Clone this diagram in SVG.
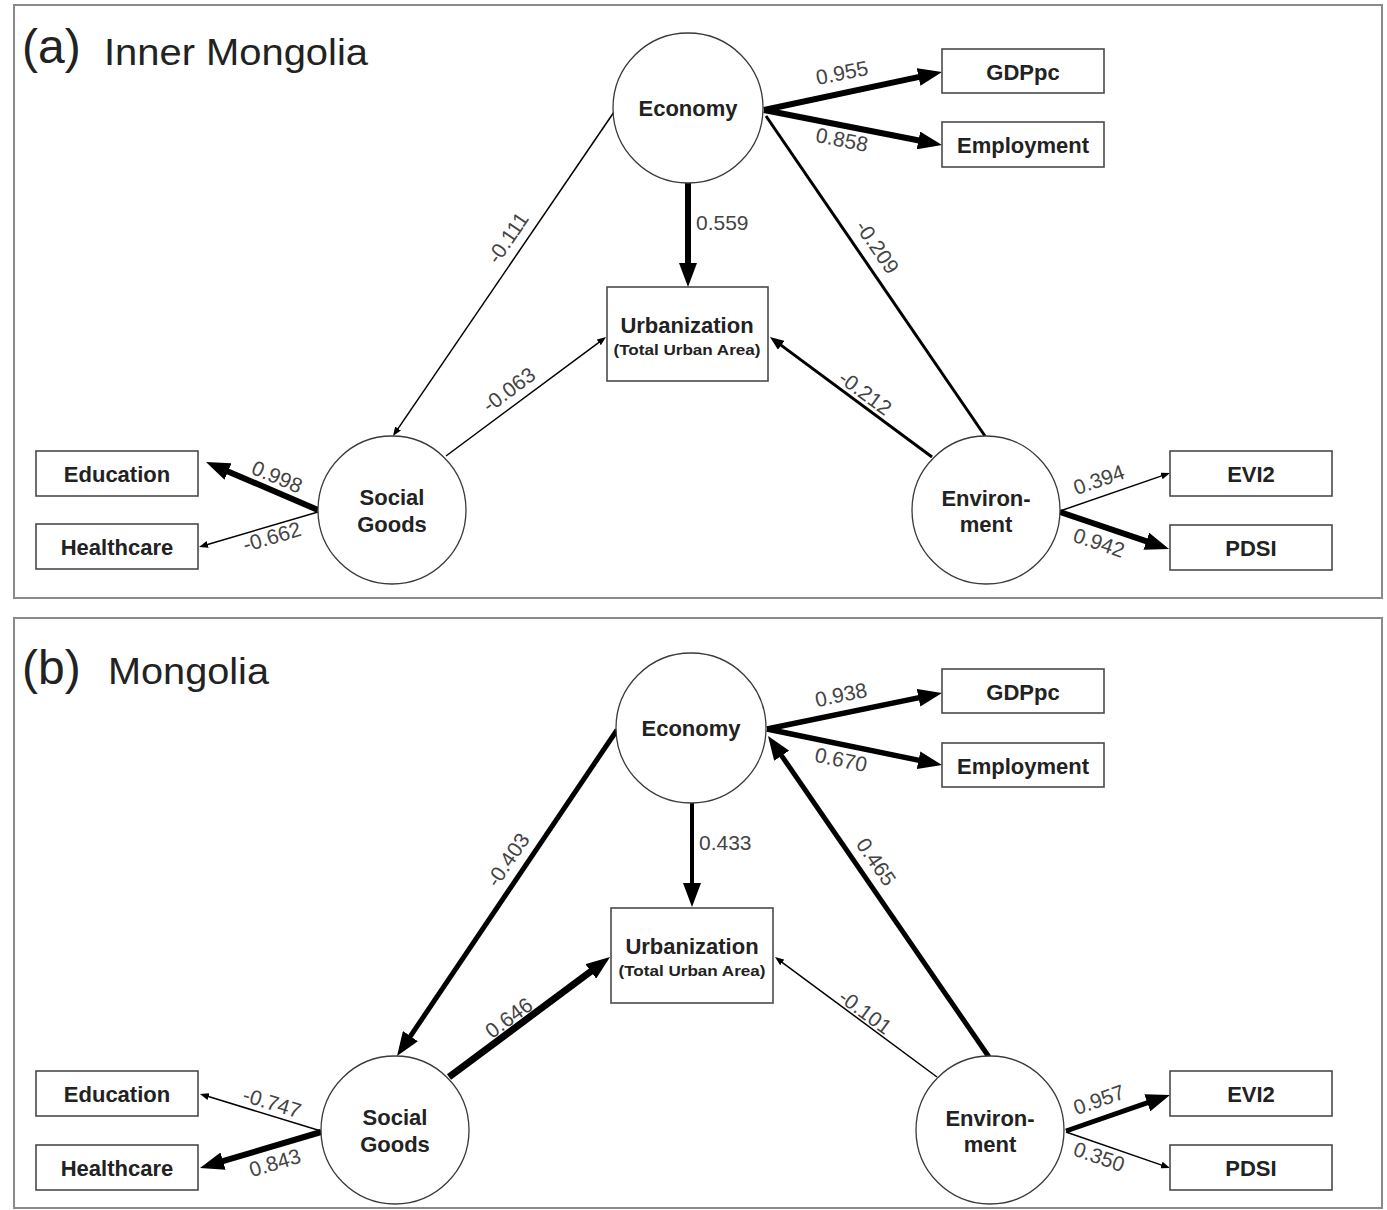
<svg xmlns="http://www.w3.org/2000/svg" width="1387" height="1210" viewBox="0 0 1387 1210">
  <style>
    .frame { fill: none; stroke: #8a8a8a; stroke-width: 2; }
    .lat { fill: #fff; stroke: #3a3a3a; stroke-width: 1.3; }
    .box { fill: #fff; stroke: #4a4a4a; stroke-width: 1.6; }
    .nl { font-family: "Liberation Sans", Arial, sans-serif; font-weight: bold; font-size: 22px; fill: #222; text-anchor: middle; }
    .sub { font-size: 15px; }
    .cl { font-family: "Liberation Sans", Arial, sans-serif; font-size: 21px; fill: #444; text-anchor: middle; }
    .title { font-family: "Liberation Sans", Arial, sans-serif; fill: #222; }
    .e { stroke: #000; fill: none; }
  </style>
  <defs>
    <marker id="ahL" markerUnits="userSpaceOnUse" viewBox="0 0 24 18" markerWidth="24" markerHeight="18" refX="2" refY="9" orient="auto">
      <path d="M0,0 L24,9 L0,18 z" fill="#000"/>
    </marker>
    <marker id="ahM" markerUnits="userSpaceOnUse" viewBox="0 0 14 11" markerWidth="14" markerHeight="11" refX="2" refY="5.5" orient="auto">
      <path d="M0,0 L14,5.5 L0,11 z" fill="#000"/>
    </marker>
    <marker id="ahS" markerUnits="userSpaceOnUse" viewBox="0 0 9 7" markerWidth="9" markerHeight="7" refX="1" refY="3.5" orient="auto">
      <path d="M0,0 L9,3.5 L0,7 z" fill="#000"/>
    </marker>
  </defs>

  <rect width="1387" height="1210" fill="#fff"/>

  <!-- panel frames and titles -->
  <g id="panel-a-frame">
    <rect class="frame" x="14" y="5" width="1368" height="593"/>
    <text class="title" x="22" y="63" font-size="48">(a)</text>
    <text class="title" x="104" y="65" font-size="36" textLength="264" lengthAdjust="spacingAndGlyphs">Inner Mongolia</text>
  </g>
  <g id="panel-b-frame">
    <rect class="frame" x="14" y="618" width="1368" height="590"/>
    <text class="title" x="22" y="684" font-size="48">(b)</text>
    <text class="title" x="108" y="684" font-size="36" textLength="161" lengthAdjust="spacingAndGlyphs">Mongolia</text>
  </g>

  <!-- connectors -->
  <g id="connectors">
    <!-- panel a -->
    <line class="e" x1="764" y1="110" x2="920.5" y2="76.6" stroke-width="6" marker-end="url(#ahL)"/>
    <line class="e" x1="764" y1="110" x2="920.4" y2="140.8" stroke-width="6" marker-end="url(#ahL)"/>
    <line class="e" x1="688" y1="183" x2="688" y2="265" stroke-width="6" marker-end="url(#ahL)"/>
    <line class="e" x1="614" y1="112" x2="397.5" y2="429.4" stroke-width="1.5" marker-end="url(#ahS)"/>
    <line class="e" x1="985" y1="436" x2="766" y2="116" stroke-width="3"/>
    <line class="e" x1="446" y1="456" x2="599.6" y2="341.8" stroke-width="1.5" marker-end="url(#ahS)"/>
    <line class="e" x1="932" y1="457" x2="779.6" y2="344.1" stroke-width="3" marker-end="url(#ahM)"/>
    <line class="e" x1="318" y1="510" x2="226.2" y2="470.7" stroke-width="6" marker-end="url(#ahL)"/>
    <line class="e" x1="318" y1="512" x2="206.7" y2="544.7" stroke-width="1.5" marker-end="url(#ahS)"/>
    <line class="e" x1="1060" y1="511" x2="1162.4" y2="475.6" stroke-width="1.5" marker-end="url(#ahS)"/>
    <line class="e" x1="1060" y1="512" x2="1148.2" y2="541.9" stroke-width="6" marker-end="url(#ahL)"/>

    <text class="cl" transform="translate(842,73) rotate(-11)" y="7">0.955</text>
    <text class="cl" transform="translate(842,140) rotate(11)" y="7">0.858</text>
    <text class="cl" x="696" y="230" style="text-anchor:start">0.559</text>
    <text class="cl" transform="translate(508,238) rotate(-55.7)" y="7">-0.111</text>
    <text class="cl" transform="translate(877,247) rotate(55.6)" y="7">-0.209</text>
    <text class="cl" transform="translate(509,390) rotate(-36.6)" y="7">-0.063</text>
    <text class="cl" transform="translate(865,393) rotate(36.5)" y="7">-0.212</text>
    <text class="cl" transform="translate(277,477) rotate(23)" y="7">0.998</text>
    <text class="cl" transform="translate(272,537) rotate(-16.4)" y="7">-0.662</text>
    <text class="cl" transform="translate(1099,480) rotate(-19)" y="7">0.394</text>
    <text class="cl" transform="translate(1099,543) rotate(18.7)" y="7">0.942</text>

    <!-- panel b -->
    <line class="e" x1="767" y1="729" x2="920.5" y2="697.4" stroke-width="5.5" marker-end="url(#ahL)"/>
    <line class="e" x1="767" y1="729" x2="920.5" y2="760.6" stroke-width="5.5" marker-end="url(#ahL)"/>
    <line class="e" x1="692" y1="803" x2="692" y2="885" stroke-width="4" marker-end="url(#ahL)"/>
    <line class="e" x1="617" y1="730" x2="409.3" y2="1037.8" stroke-width="5" marker-end="url(#ahL)"/>
    <line class="e" x1="989" y1="1057" x2="780.5" y2="754.1" stroke-width="5" marker-end="url(#ahL)"/>
    <line class="e" x1="449" y1="1077" x2="592.4" y2="970.2" stroke-width="7" marker-end="url(#ahL)"/>
    <line class="e" x1="937" y1="1077" x2="781.4" y2="961.8" stroke-width="1.5" marker-end="url(#ahS)"/>
    <line class="e" x1="321" y1="1131" x2="207.6" y2="1096.3" stroke-width="1.5" marker-end="url(#ahS)"/>
    <line class="e" x1="321" y1="1132" x2="221.1" y2="1161.7" stroke-width="6" marker-end="url(#ahL)"/>
    <line class="e" x1="1066" y1="1131" x2="1149.2" y2="1102.2" stroke-width="5" marker-end="url(#ahL)"/>
    <line class="e" x1="1066" y1="1132" x2="1162.4" y2="1165.4" stroke-width="1.5" marker-end="url(#ahS)"/>

    <text class="cl" transform="translate(841,695) rotate(-11.6)" y="7">0.938</text>
    <text class="cl" transform="translate(841,760) rotate(11.6)" y="7">0.670</text>
    <text class="cl" x="699" y="850" style="text-anchor:start">0.433</text>
    <text class="cl" transform="translate(508,860) rotate(-56)" y="7">-0.403</text>
    <text class="cl" transform="translate(876,862) rotate(55.5)" y="7">0.465</text>
    <text class="cl" transform="translate(509,1018) rotate(-36.7)" y="7">0.646</text>
    <text class="cl" transform="translate(865,1012) rotate(36.5)" y="7">-0.101</text>
    <text class="cl" transform="translate(272,1103) rotate(17)" y="7">-0.747</text>
    <text class="cl" transform="translate(275,1163) rotate(-16.6)" y="7">0.843</text>
    <text class="cl" transform="translate(1099,1100) rotate(-19.1)" y="7">0.957</text>
    <text class="cl" transform="translate(1099,1157) rotate(19.1)" y="7">0.350</text>
  </g>

  <!-- panel a nodes -->
  <g id="a-economy">
    <circle class="lat" cx="688" cy="108" r="75"/>
    <text class="nl" x="688" y="116">Economy</text>
  </g>
  <g id="a-social">
    <circle class="lat" cx="392" cy="510" r="74"/>
    <text class="nl" x="392" y="505">Social</text>
    <text class="nl" x="392" y="532">Goods</text>
  </g>
  <g id="a-environment">
    <circle class="lat" cx="986" cy="510" r="74"/>
    <text class="nl" x="986" y="506">Environ-</text>
    <text class="nl" x="986" y="532">ment</text>
  </g>
  <g id="a-urbanization">
    <rect class="box" x="607" y="287" width="161" height="94"/>
    <text class="nl" x="687" y="333">Urbanization</text>
    <text class="nl sub" x="687" y="355" textLength="147" lengthAdjust="spacingAndGlyphs">(Total Urban Area)</text>
  </g>
  <g id="a-gdppc">
    <rect class="box" x="942" y="49" width="162" height="44"/>
    <text class="nl" x="1023" y="80">GDPpc</text>
  </g>
  <g id="a-employment">
    <rect class="box" x="942" y="122" width="162" height="45"/>
    <text class="nl" x="1023" y="153">Employment</text>
  </g>
  <g id="a-education">
    <rect class="box" x="36" y="451" width="162" height="45"/>
    <text class="nl" x="117" y="482">Education</text>
  </g>
  <g id="a-healthcare">
    <rect class="box" x="36" y="524" width="162" height="45"/>
    <text class="nl" x="117" y="555">Healthcare</text>
  </g>
  <g id="a-evi2">
    <rect class="box" x="1170" y="451" width="162" height="45"/>
    <text class="nl" x="1251" y="482">EVI2</text>
  </g>
  <g id="a-pdsi">
    <rect class="box" x="1170" y="525" width="162" height="45"/>
    <text class="nl" x="1251" y="556">PDSI</text>
  </g>

  <!-- panel b nodes -->
  <g id="b-economy">
    <circle class="lat" cx="691" cy="728" r="75"/>
    <text class="nl" x="691" y="736">Economy</text>
  </g>
  <g id="b-social">
    <circle class="lat" cx="395" cy="1130" r="74"/>
    <text class="nl" x="395" y="1125">Social</text>
    <text class="nl" x="395" y="1152">Goods</text>
  </g>
  <g id="b-environment">
    <circle class="lat" cx="990" cy="1130" r="74"/>
    <text class="nl" x="990" y="1126">Environ-</text>
    <text class="nl" x="990" y="1152">ment</text>
  </g>
  <g id="b-urbanization">
    <rect class="box" x="611" y="908" width="162" height="95"/>
    <text class="nl" x="692" y="954">Urbanization</text>
    <text class="nl sub" x="692" y="976" textLength="147" lengthAdjust="spacingAndGlyphs">(Total Urban Area)</text>
  </g>
  <g id="b-gdppc">
    <rect class="box" x="942" y="669" width="162" height="44"/>
    <text class="nl" x="1023" y="700">GDPpc</text>
  </g>
  <g id="b-employment">
    <rect class="box" x="942" y="743" width="162" height="44"/>
    <text class="nl" x="1023" y="774">Employment</text>
  </g>
  <g id="b-education">
    <rect class="box" x="36" y="1071" width="162" height="45"/>
    <text class="nl" x="117" y="1102">Education</text>
  </g>
  <g id="b-healthcare">
    <rect class="box" x="36" y="1145" width="162" height="45"/>
    <text class="nl" x="117" y="1176">Healthcare</text>
  </g>
  <g id="b-evi2">
    <rect class="box" x="1170" y="1071" width="162" height="45"/>
    <text class="nl" x="1251" y="1102">EVI2</text>
  </g>
  <g id="b-pdsi">
    <rect class="box" x="1170" y="1145" width="162" height="45"/>
    <text class="nl" x="1251" y="1176">PDSI</text>
  </g>
</svg>
